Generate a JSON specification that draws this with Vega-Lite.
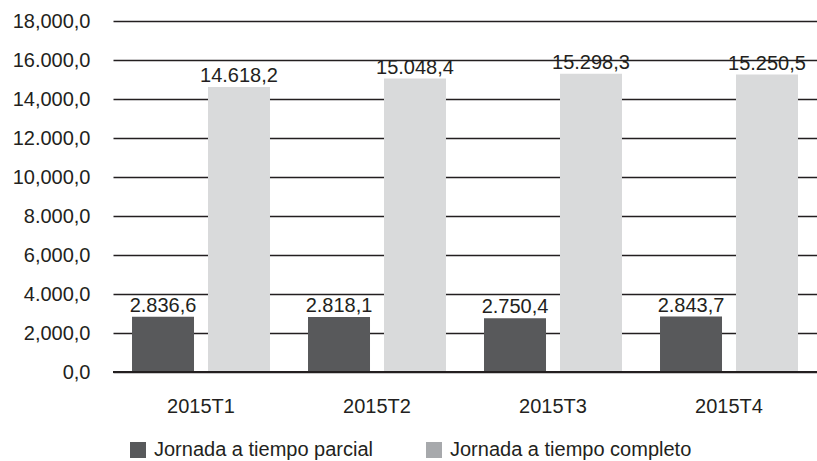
{
  "$schema": "https://vega.github.io/schema/vega-lite/v6.json",
  "autosize": {"type": "none"},
  "width": 704,
  "height": 351,
  "padding": {"left": 113, "top": 21, "right": 0, "bottom": 89},
  "background": "white",
  "config": {
    "view": {"stroke": null},
    "font": "Liberation Sans",
    "locale": {"number": {"decimal": ",", "thousands": ".", "grouping": [3], "currency": ["", ""]}}
  },
  "data": {
    "values": [
      {"periodo": "2015T1", "serie": "Jornada a tiempo parcial", "valor": 2836.6},
      {"periodo": "2015T1", "serie": "Jornada a tiempo completo", "valor": 14618.2},
      {"periodo": "2015T2", "serie": "Jornada a tiempo parcial", "valor": 2818.1},
      {"periodo": "2015T2", "serie": "Jornada a tiempo completo", "valor": 15048.4},
      {"periodo": "2015T3", "serie": "Jornada a tiempo parcial", "valor": 2750.4},
      {"periodo": "2015T3", "serie": "Jornada a tiempo completo", "valor": 15298.3},
      {"periodo": "2015T4", "serie": "Jornada a tiempo parcial", "valor": 2843.7},
      {"periodo": "2015T4", "serie": "Jornada a tiempo completo", "valor": 15250.5}
    ]
  },
  "encoding": {
    "x": {
      "field": "periodo", "type": "nominal",
      "scale": {"paddingInner": 0.216, "paddingOuter": 0.108},
      "axis": {"title": null, "labelAngle": 0, "ticks": false, "domain": false, "labelPadding": 24, "labelFontSize": 20, "labelColor": "#231f20"}
    },
    "xOffset": {
      "field": "serie", "type": "nominal",
      "sort": ["Jornada a tiempo parcial", "Jornada a tiempo completo"],
      "scale": {"paddingInner": 0.184, "paddingOuter": 0}
    },
    "y": {
      "field": "valor", "type": "quantitative",
      "scale": {"domain": [0, 18000], "nice": false},
      "axis": {
        "title": null,
        "values": [0, 2000, 4000, 6000, 8000, 10000, 12000, 14000, 16000, 18000],
        "format": ",.1f",
        "labelExpr": "(datum.value / 2000) % 2 == 1 ? replace(datum.label, '.', ',') : datum.label",
        "domain": false, "ticks": false,
        "grid": true, "gridColor": "#231f20", "gridWidth": 1.6,
        "labelPadding": 23, "labelFontSize": 20, "labelColor": "#231f20"
      }
    }
  },
  "resolve": {"scale": {"color": "independent"}},
  "layer": [
    {
      "mark": {"type": "bar"},
      "encoding": {
        "color": {
          "field": "serie", "type": "nominal",
          "scale": {"domain": ["Jornada a tiempo parcial", "Jornada a tiempo completo"], "range": ["#58595b", "#d9dadb"]},
          "legend": null
        }
      }
    },
    {
      "mark": {"type": "bar", "strokeWidth": 0},
      "encoding": {
        "y": {"datum": 0, "type": "quantitative"},
        "color": {
          "field": "serie", "type": "nominal",
          "scale": {"domain": ["Jornada a tiempo parcial", "Jornada a tiempo completo"], "range": ["#58595b", "#a7a9ac"]},
          "legend": {
            "title": null, "orient": "none", "legendX": 15, "legendY": 419,
            "direction": "horizontal", "symbolType": "square", "symbolSize": 256,
            "symbolStrokeWidth": 0, "labelFontSize": 20, "labelColor": "#231f20",
            "labelLimit": 400, "columnPadding": 50, "labelOffset": 6
          }
        }
      }
    },
    {
      "mark": {"type": "text", "baseline": "alphabetic", "dy": -5, "fontSize": 20, "color": "#231f20"},
      "encoding": {
        "text": {"field": "valor", "type": "quantitative", "format": ",.1f"}
      }
    },
    {
      "data": {"values": [{"y": 0}]},
      "mark": {"type": "rule", "color": "#231f20", "strokeWidth": 2.2},
      "encoding": {"y": {"field": "y", "type": "quantitative"}, "x": null, "xOffset": null}
    }
  ]
}
